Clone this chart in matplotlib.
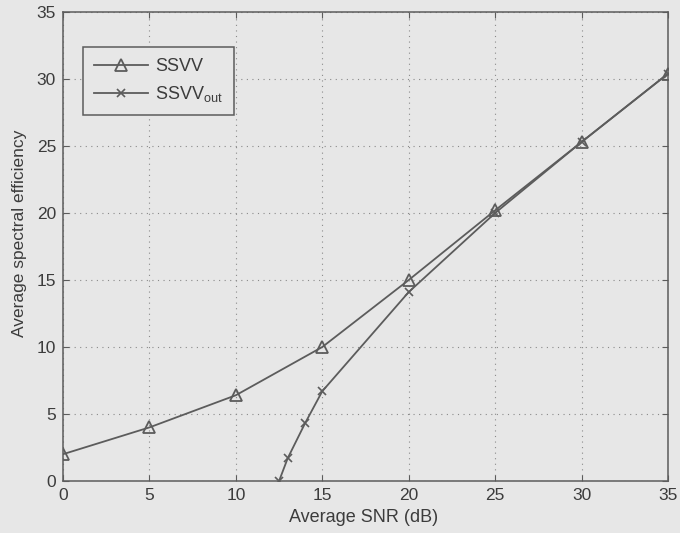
import matplotlib
matplotlib.use("Agg")
import matplotlib.pyplot as plt

plt.rcParams['font.family'] = ['Liberation Sans', 'DejaVu Sans']

# Average SNR (dB) and spectral efficiency for each scheme
snr_ssvv = [0, 5, 10, 15, 20, 25, 30, 35]
eff_ssvv = [2.0, 4.0, 6.4, 10.0, 15.0, 20.2, 25.3, 30.4]

snr_out = [12.5, 13, 14, 15, 20, 25, 30, 35]
eff_out = [0.0, 1.7, 4.3, 6.7, 14.1, 20.0, 25.3, 30.4]

x_ticks = [0, 5, 10, 15, 20, 25, 30, 35]
y_ticks = [0, 5, 10, 15, 20, 25, 30, 35]

bg = '#e7e7e7'
line_col = '#5c5c5c'
text_col = '#3c3c3c'

fig = plt.figure(figsize=(6.8, 5.33), dpi=100, facecolor=bg)
ax = fig.add_axes([63 / 680, 1 - 481 / 533, (668 - 63) / 680, (481 - 12) / 533])
ax.set_facecolor(bg)

ax.plot(snr_ssvv, eff_ssvv, color=line_col, lw=1.3, marker='^', ms=8,
        mfc='none', mec=line_col, mew=1.3, label='SSVV')
ax.plot(snr_out, eff_out, color=line_col, lw=1.3, marker='x', ms=6,
        mec=line_col, mew=1.2, label='SSVV$_{\\mathregular{out}}$')

ax.set_xlim(0, 35)
ax.set_ylim(0, 35)
ax.set_xticks(x_ticks)
ax.set_yticks(y_ticks)
ax.grid(True, linestyle=(0, (1, 4)), color='#8a8a8a', lw=0.8)
ax.tick_params(direction='in', length=4, color=line_col, labelcolor=text_col,
               labelsize=12.5, top=True, right=True, pad=5)
for s in ax.spines.values():
    s.set_color(line_col)
    s.set_linewidth(1.1)

ax.set_xlabel('Average SNR (dB)', fontsize=13, color=text_col, va='top')
ax.set_ylabel('Average spectral efficiency', fontsize=12.5, color=text_col)
ax.xaxis.set_label_coords(0.497, -0.060)
ax.yaxis.set_label_coords(-0.060, 0.529)

leg = ax.legend(loc='upper left', bbox_to_anchor=(0.033, 0.925), fontsize=13,
                frameon=True, fancybox=False, edgecolor=line_col, facecolor=bg,
                handlelength=3.0, handletextpad=0.4, labelcolor=text_col,
                borderpad=0.6, labelspacing=0.5, borderaxespad=0)
leg.get_frame().set_linewidth(1.1)
leg.get_frame().set_alpha(1)

fig.savefig('out.png', dpi=100, facecolor=bg)
